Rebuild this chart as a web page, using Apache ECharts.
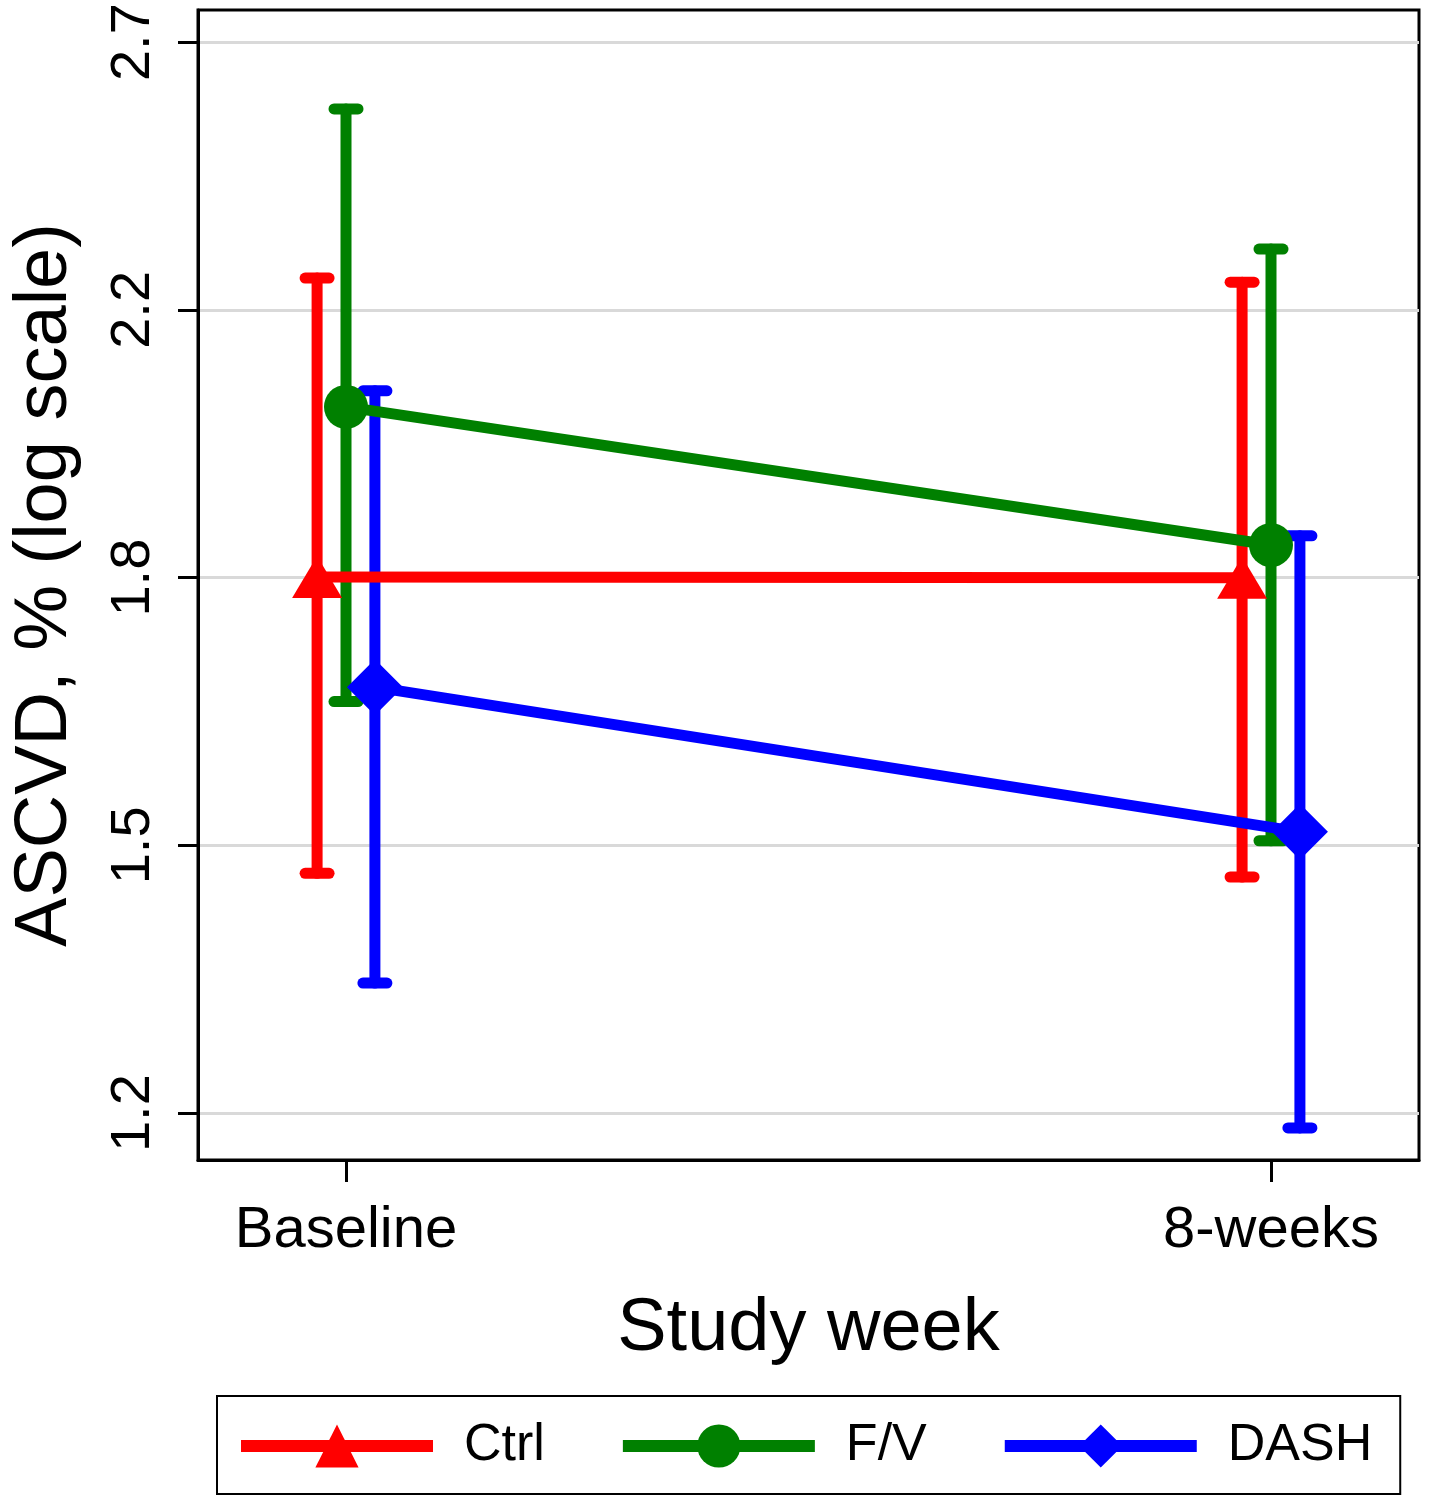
<!DOCTYPE html>
<html>
<head>
<meta charset="utf-8">
<script src="https://cdn.jsdelivr.net/npm/echarts@6/dist/echarts.min.js"></script>
<style>
  html, body { margin: 0; padding: 0; background: #fff; }
  #main { width: 1430px; height: 1500px; }
</style>
</head>
<body>
<div id="main"></div>
<script>
// study week positions and their labels
var weeks = [0, 8];
var weekLabels = ['Baseline', '8-weeks'];
var groups = ['Ctrl', 'F/V', 'DASH'];
var groupColors = ['#ff0000', '#008000', '#0000ff'];
var groupSymbols = ['triangle', 'circle', 'diamond'];
var groupOffset = [-0.25, 0, 0.25];   // dodge in weeks

// ASCVD, % (means and 95% CI)
var ctrlMean = [1.823, 1.822];
var ctrlLow  = [1.461, 1.457];
var ctrlHigh = [2.279, 2.272];
var fvMean = [2.070, 1.867];
var fvLow  = [1.661, 1.497];
var fvHigh = [2.586, 2.329];
var dashMean = [1.679, 1.507];
var dashLow  = [1.346, 1.208];
var dashHigh = [2.095, 1.880];

// y axis is ln(%): ticks at 0.2 steps, shown as exp()
var yTickPos = [0.2, 0.4, 0.6, 0.8, 1.0];
var yTickLabels = ['1.2', '1.5', '1.8', '2.2', '2.7'];

var means = [ctrlMean, fvMean, dashMean];
var lows = [ctrlLow, fvLow, dashLow];
var highs = [ctrlHigh, fvHigh, dashHigh];
var symbolSizes = [[50, 42], 44, [56, 56]];

var font = '"Liberation Sans", Arial, Helvetica, sans-serif';
var myChart = echarts.init(document.getElementById('main'));

function renderCI(params, api) {
    var x = api.value(0);
    var top = api.coord([x, api.value(2)]);
    var bot = api.coord([x, api.value(1)]);
    var cap = 12;
    var style = { stroke: api.visual('color'), lineWidth: 11, lineCap: 'round', fill: null };
    return {
        type: 'group',
        children: [
            { type: 'line', shape: { x1: top[0], y1: top[1], x2: bot[0], y2: bot[1] }, style: style },
            { type: 'line', shape: { x1: top[0] - cap, y1: top[1], x2: top[0] + cap, y2: top[1] }, style: style },
            { type: 'line', shape: { x1: bot[0] - cap, y1: bot[1], x2: bot[0] + cap, y2: bot[1] }, style: style }
        ]
    };
}

var series = [];
groups.forEach(function (g, gi) {
    var lineData = weeks.map(function (w, i) {
        return [w + groupOffset[gi], Math.log(means[gi][i])];
    });
    var ciData = weeks.map(function (w, i) {
        return [w + groupOffset[gi], Math.log(lows[gi][i]), Math.log(highs[gi][i])];
    });
    series.push({
        name: g,
        type: 'line',
        data: lineData,
        symbol: groupSymbols[gi],
        symbolSize: symbolSizes[gi],
        showSymbol: true,
        color: groupColors[gi],
        lineStyle: { width: 11, color: groupColors[gi] },
        itemStyle: { color: groupColors[gi] },
        emphasis: { disabled: true }
    });
    series.push({
        name: g + ' CI',
        type: 'custom',
        data: ciData,
        color: groupColors[gi],
        itemStyle: { color: groupColors[gi] },
        encode: { x: 0, y: [1, 2] },
        renderItem: renderCI
    });
});

var option = {
    animation: false,
    backgroundColor: '#fff',
    grid: {
        left: 198, right: 11, top: 10, bottom: 340,
        show: true, borderColor: '#000', borderWidth: 3,
        outerBoundsMode: 'none'
    },
    legend: {
        data: groups,
        left: 217, top: 1396,
        orient: 'horizontal',
        itemWidth: 192, itemHeight: 54, itemGap: 72,
        padding: [24, 28, 22, 18],
        borderColor: '#000', borderWidth: 2,
        lineStyle: { width: 12 },
        textStyle: { fontSize: 52, color: '#000', fontFamily: font, padding: [0, 0, 0, 26] },
        selectedMode: false
    },
    xAxis: {
        type: 'value',
        min: -1.28, max: 9.28,
        name: 'Study week',
        nameLocation: 'middle',
        nameGap: 133,
        nameTextStyle: { fontSize: 74, color: '#000', fontFamily: font },
        axisLine: { onZero: false, lineStyle: { color: '#000', width: 3 } },
        axisTick: { customValues: weeks, length: 22, lineStyle: { color: '#000', width: 3 } },
        axisLabel: {
            customValues: weeks, margin: 42, fontSize: 58, color: '#000', fontFamily: font,
            formatter: function (v) { return weekLabels[weeks.indexOf(v)]; }
        },
        splitLine: { show: false }
    },
    yAxis: {
        type: 'value',
        min: 0.165, max: 1.024,
        name: 'ASCVD, % (log scale)',
        nameLocation: 'middle',
        nameGap: 115,
        nameTextStyle: { fontSize: 74, color: '#000', fontFamily: font },
        axisLine: { onZero: false, lineStyle: { color: '#000', width: 3 } },
        axisTick: { customValues: yTickPos, length: 20, lineStyle: { color: '#000', width: 3 } },
        axisLabel: {
            customValues: yTickPos, margin: 36, rotate: 90, fontSize: 56, color: '#000', fontFamily: font,
            formatter: function (v) {
                var best = 0;
                yTickPos.forEach(function (p, i) { if (Math.abs(p - v) < Math.abs(yTickPos[best] - v)) best = i; });
                return yTickLabels[best];
            }
        },
        splitLine: { show: true, lineStyle: { color: '#d9d9d9', width: 3 } }
    },
    series: series
};

myChart.setOption(option);
</script>
</body>
</html>
